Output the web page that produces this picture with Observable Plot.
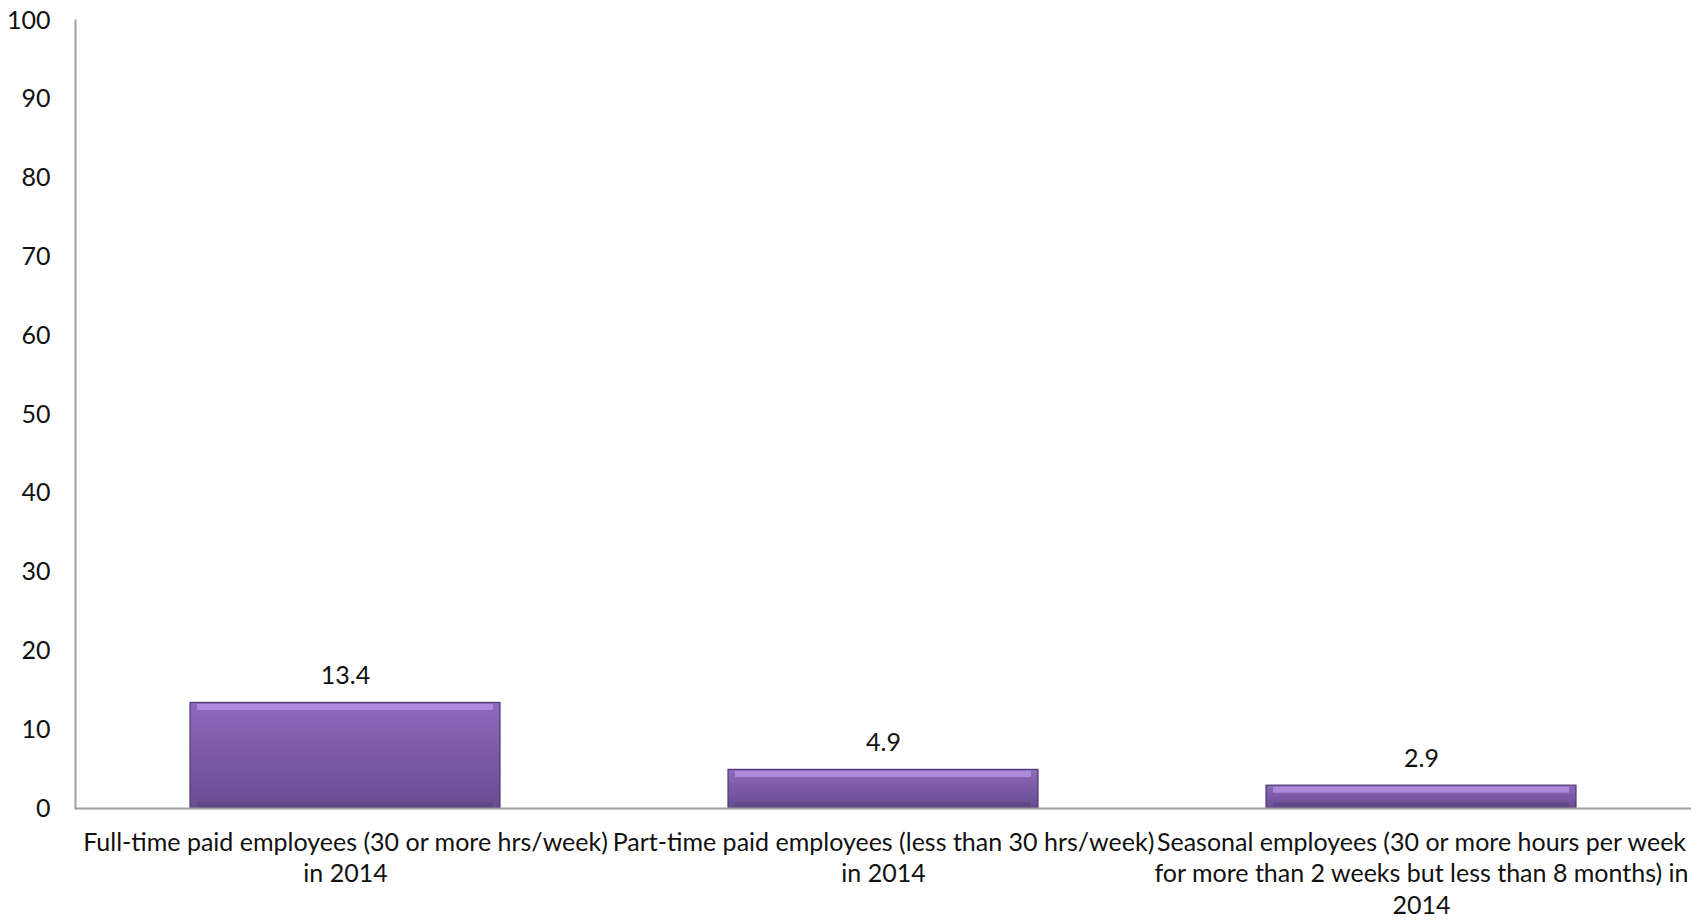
<!DOCTYPE html>
<html>
<head>
<meta charset="utf-8">
<script src="https://cdn.jsdelivr.net/npm/d3@7"></script>
<script src="https://cdn.jsdelivr.net/npm/@observablehq/plot@0.6"></script>
<style>
  html, body { margin: 0; padding: 0; background: #ffffff; }
  #chart { width: 1705px; height: 920px; }
</style>
</head>
<body>
<div id="chart"></div>
<script>
const categories = [
  "Full-time paid employees (30 or more hrs/week) in 2014",
  "Part-time paid employees (less than 30 hrs/week) in 2014",
  "Seasonal employees (30 or more hours per week for more than 2 weeks but less than 8 months) in 2014"
];
const values = [13.4, 4.9, 2.9];
const tickLabels = [
  "Full-time paid employees (30 or more hrs/week)\nin 2014",
  "Part-time paid employees (less than 30 hrs/week)\nin 2014",
  "Seasonal employees (30 or more hours per week\nfor more than 2 weeks but less than 8 months) in\n2014"
];
const yTicks = [0, 10, 20, 30, 40, 50, 60, 70, 80, 90, 100];

const rows = categories.map((c, i) => ({category: c, value: values[i], label: tickLabels[i]}));

const chart = Plot.plot({
  width: 1705,
  height: 920,
  marginLeft: 75,
  marginRight: 14,
  marginTop: 20,
  marginBottom: 112,
  style: {fontFamily: "Lato, 'Open Sans', sans-serif", fontSize: "25px", color: "#111", background: "#fff"},
  x: {domain: categories, paddingInner: 0.4245, paddingOuter: 0.212, axis: null},
  y: {domain: [0, 100], label: null},
  marks: [
    Plot.axisY({ticks: yTicks, tickSize: 0, tickPadding: 25, fill: "#111", label: null}),
    Plot.barY(rows, {x: "category", y: "value", fill: "url(#barGrad)", stroke: "#4e3a70", strokeWidth: 1.2}),
    Plot.tickY(rows, {x: "category", y: "value", stroke: "#b897e6", strokeWidth: 6, dy: 4, insetLeft: 7, insetRight: 7, strokeOpacity: 0.75}),
    Plot.tickY(rows, {x: "category", y: 0, stroke: "#5a4480", strokeWidth: 5, dy: -3.5, insetLeft: 7, insetRight: 7, strokeOpacity: 0.7}),
    Plot.frame({anchor: "left", stroke: "#a0a0a0", strokeWidth: 2}),
    Plot.ruleY([0], {stroke: "#a0a0a0", strokeWidth: 2}),
    Plot.text(rows, {x: "category", y: "value", text: d => d.value.toFixed(1), dy: -27, fill: "#111"}),
    Plot.text(rows, {x: "category", text: "label", frameAnchor: "bottom", lineAnchor: "top", dy: 20, lineHeight: 1.26, fill: "#111"})
  ]
});

const ns = "http://www.w3.org/2000/svg";
const defs = document.createElementNS(ns, "defs");
defs.innerHTML = `
  <linearGradient id="barGrad" x1="0" y1="0" x2="0" y2="1">
    <stop offset="0" stop-color="#8c6bbd"/>
    <stop offset="0.5" stop-color="#7a5aa7"/>
    <stop offset="1" stop-color="#684c90"/>
  </linearGradient>`;
chart.insertBefore(defs, chart.firstChild);
document.getElementById("chart").appendChild(chart);
</script>
</body>
</html>
